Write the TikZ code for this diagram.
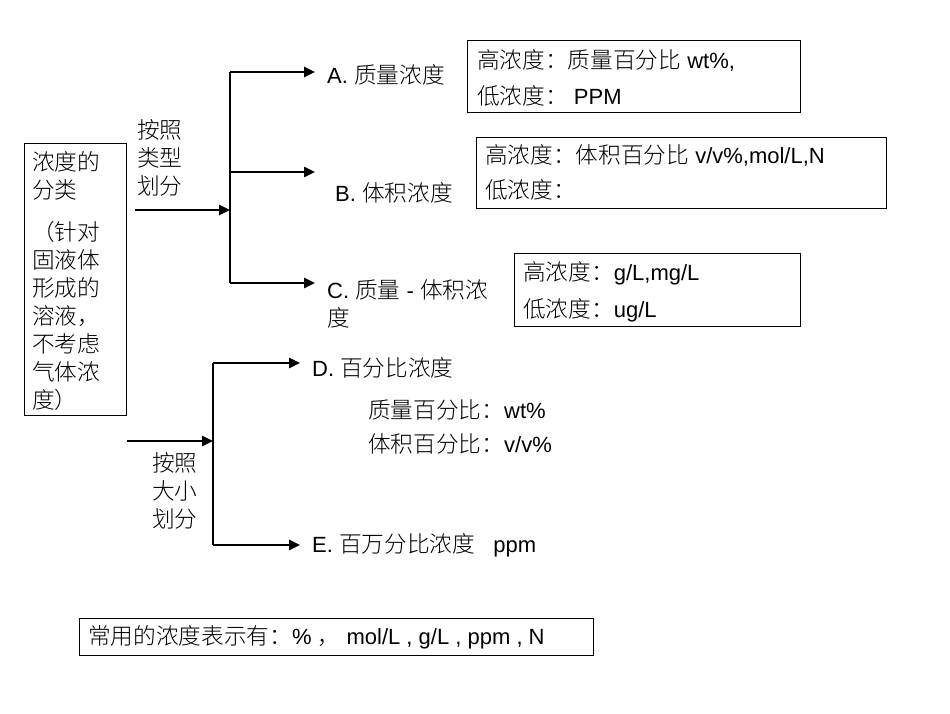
\documentclass[tikz,border=0pt]{standalone}
\usepackage{fontspec}
\setmainfont{Liberation Sans}
\newfontfamily\cjk{Noto Sans CJK SC Light}[Scale=1.03]
\newcommand\zh[1]{{\cjk #1}}
\usetikzlibrary{arrows.meta}
\begin{document}
\begin{tikzpicture}[x=1pt,y=-1pt,
  t/.style={anchor=west,inner sep=0pt,font=\fontsize{22}{24}\selectfont},
  bx/.style={draw,line width=0.8pt},
  ar/.style={line width=2.5pt,-{Triangle[length=11pt,width=10pt]}},
  ln/.style={line width=2.5pt}]
\useasboundingbox (0,0) rectangle (950,713);
% left box
\draw[bx] (24,143) rectangle (126,415);
\foreach \y/\s [count=\i] in {162/浓度的,190/分类,232/（针对,260/固液体,288/形成的,316/溶液，,344/不考虑,372/气体浓,400/度）}
  \node[t] (L\i) at (32,\y) {\zh{\s}};
% upper tree
\coordinate (u0) at (135,210); \coordinate (uj) at (230,210);
\coordinate (ua) at (230,72); \coordinate (ub) at (230,172); \coordinate (uc) at (230,283);
\coordinate (uat) at (315,72); \coordinate (ubt) at (315,172); \coordinate (uct) at (315,283);
\draw[ar] (u0) -- (uj);
\draw[ln] (ua) -- (uc);
\draw[ar] (ua) -- (uat); \draw[ar] (ub) -- (ubt); \draw[ar] (uc) -- (uct);
\node[t] (k1) at (137,130) {\zh{按照}};
\node[t] (k2) at (137,158) {\zh{类型}};
\node[t] (k3) at (137,186) {\zh{划分}};
\node[t] (A) at (327,75) {A. \zh{质量浓度}};
\node[t] (B) at (335,193) {B. \zh{体积浓度}};
\node[t] (C) at (327,290) {C. \zh{质量} - \zh{体积浓}};
\node[t] (C2) at (327,318) {\zh{度}};
\draw[bx] (467,40) rectangle (800,112);
\node[t] (a1) at (477,60) {\zh{高浓度：质量百分比} wt\%,};
\node[t] (a2) at (477,96) {\zh{低浓度：}\ PPM};
\draw[bx] (476,137) rectangle (886,208);
\node[t] (b1) at (485,155) {\zh{高浓度：体积百分比} v/v\%,mol/L,N};
\node[t] (b2) at (485,190) {\zh{低浓度：}};
\draw[bx] (514,253) rectangle (800,326);
\node[t] (c1) at (523,273) {\zh{高浓度：}g/L,mg/L};
\node[t] (c2) at (523,310) {\zh{低浓度：}ug/L};
% lower tree
\coordinate (l0) at (127,441); \coordinate (lj) at (213,441);
\coordinate (ld) at (213,363); \coordinate (le) at (213,545);
\coordinate (ldt) at (300,363); \coordinate (let) at (300,545);
\draw[ar] (l0) -- (lj);
\draw[ln] (ld) -- (le);
\draw[ar] (ld) -- (ldt); \draw[ar] (le) -- (let);
\node[t] (m1) at (152,463) {\zh{按照}};
\node[t] (m2) at (152,491) {\zh{大小}};
\node[t] (m3) at (152,519) {\zh{划分}};
\node[t] (D) at (312,368) {D. \zh{百分比浓度}};
\node[t] (d1) at (368,410) {\zh{质量百分比：}wt\%};
\node[t] (d2) at (368,444) {\zh{体积百分比：}v/v\%};
\node[t] (E) at (312,545) {E. \zh{百万分比浓度}\ \ \ ppm};
% bottom
\draw[bx] (79,618) rectangle (593,655);
\node[t] (f) at (88,637) {\zh{常用的浓度表示有：}\%\ \zh{，}\ mol/L , g/L , ppm , N};
\end{tikzpicture}
\end{document}
